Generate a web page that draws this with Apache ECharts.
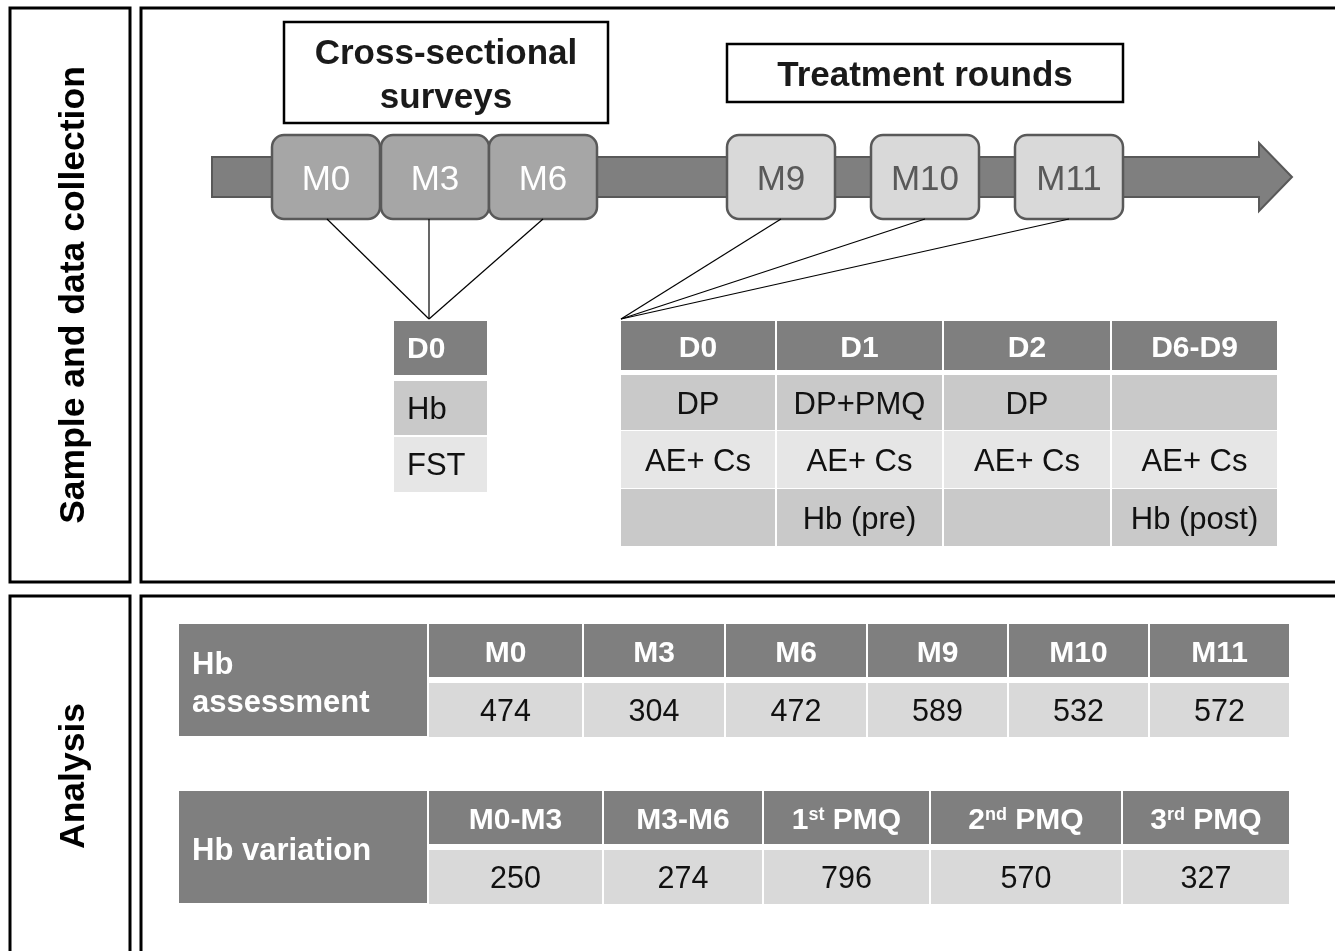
<!DOCTYPE html>
<html>
<head>
<meta charset="utf-8">
<script src="https://cdn.jsdelivr.net/npm/echarts@6/dist/echarts.min.js"></script>
<style>html,body{margin:0;padding:0;background:#fff;}#c{width:1335px;height:951px;}</style>
</head>
<body>
<div id="c"></div>
<script>
// ---- data ----
const panelLabels = ['Sample and data collection', 'Analysis'];
const headerBoxes = ['Cross-sectional\nsurveys', 'Treatment rounds'];
const surveyMonths = ['M0', 'M3', 'M6'];
const treatMonths = ['M9', 'M10', 'M11'];
const surveyDay = 'D0';
const surveyItems = ['Hb', 'FST'];
const treatDays = ['D0', 'D1', 'D2', 'D6-D9'];
const treatRow1 = ['DP', 'DP+PMQ', 'DP', ''];
const treatRow2 = ['AE+ Cs', 'AE+ Cs', 'AE+ Cs', 'AE+ Cs'];
const treatRow3 = ['', 'Hb (pre)', '', 'Hb (post)'];
const assessLabel = 'Hb\nassessment';
const assessMonths = ['M0', 'M3', 'M6', 'M9', 'M10', 'M11'];
const assessN = [474, 304, 472, 589, 532, 572];
const varLabel = 'Hb variation';
const varPeriods = ['M0-M3', 'M3-M6', '1{sup|st} PMQ', '2{sup|nd} PMQ', '3{sup|rd} PMQ'];
const varN = [250, 274, 796, 570, 327];

// ---- layout ----
const FF = '"Liberation Sans", Arial, sans-serif';
const DARK = '#7f7f7f', MID = '#a6a6a6', LIGHT = '#d9d9d9', ROWA = '#c9c9c9', ROWB = '#e6e6e6', EDGE = '#595959';
const DY = 3; // vertical text nudge
const els = [];
function rect(x, y, w, h, fill, stroke, lw, r) {
  els.push({type: 'rect', shape: {x: x, y: y, width: w, height: h, r: r || 0},
    style: {fill: fill, stroke: stroke || null, lineWidth: lw || 0}});
}
function text(t, x, y, size, color, bold, align, extra) {
  const o = {type: 'text', x: x, y: y + DY, style: Object.assign({text: t, x: 0, y: 0, fill: color,
    fontSize: size, fontFamily: FF, fontWeight: bold ? 'bold' : 'normal',
    align: align || 'center', verticalAlign: 'middle'}, extra || {})};
  els.push(o);
  return o;
}
function line(x1, y1, x2, y2) {
  els.push({type: 'line', shape: {x1: x1, y1: y1, x2: x2, y2: y2}, style: {stroke: '#000', lineWidth: 1.2}});
}

// frames
const frameTop = [8, 582], frameBot = [596, 960];
[frameTop, frameBot].forEach(function (f, i) {
  rect(10, f[0], 120, f[1] - f[0], 'none', '#000', 3);
  rect(141, f[0], 1210, f[1] - f[0], 'none', '#000', 3);
  const t = text(panelLabels[i], 70, 0, 35.5, '#000', true, 'center');
  t.x = 74; t.y = i === 0 ? 295 : 776;
  t.rotation = Math.PI / 2;
});

// header boxes
rect(284, 22, 324, 101, '#fff', '#000', 2.5);
text(headerBoxes[0], 446, 73, 35, '#1a1a1a', true, 'center', {lineHeight: 44});
rect(727, 44, 396, 58, '#fff', '#000', 2.5);
text(headerBoxes[1], 925, 73, 35, '#1a1a1a', true, 'center');

// timeline arrow
els.push({type: 'polygon', shape: {points: [[212, 157], [1259, 157], [1259, 143], [1292, 177], [1259, 211], [1259, 197], [212, 197]]},
  style: {fill: DARK, stroke: EDGE, lineWidth: 2}});

// month boxes
const surveyX = [272, 381, 489], boxW = 108, boxY = 135, boxH = 84;
const surveyLineX = [327, 429, 543];
const treatX = [727, 871, 1015];
const tableLeftAnchor = [621, 319], smallAnchor = [429, 319];
surveyMonths.forEach(function (m, i) {
  rect(surveyX[i], boxY, boxW, boxH, MID, EDGE, 2.5, 12);
  text(m, surveyX[i] + boxW / 2, boxY + boxH / 2, 35, '#fff', false);
  line(surveyLineX[i], boxY + boxH, smallAnchor[0], smallAnchor[1]);
});
treatMonths.forEach(function (m, i) {
  rect(treatX[i], boxY, boxW, boxH, LIGHT, EDGE, 2.5, 12);
  text(m, treatX[i] + boxW / 2, boxY + boxH / 2, 35, EDGE, false);
  line(treatX[i] + boxW / 2, boxY + boxH, tableLeftAnchor[0], tableLeftAnchor[1]);
});

// small survey table
rect(394, 321, 93, 54, DARK);
text(surveyDay, 407, 347, 30, '#fff', true, 'left');
const smallRows = [[381, 54, ROWA], [437, 55, ROWB]];
surveyItems.forEach(function (s, i) {
  rect(394, smallRows[i][0], 93, smallRows[i][1], smallRows[i][2]);
  text(s, 407, smallRows[i][0] + smallRows[i][1] / 2 - 1, 31, '#111', false, 'left');
});

// treatment table
const tEdges = [621, 777, 944, 1112, 1279];
const tRows = [[321, 49, DARK], [375, 55, ROWA], [431, 57, ROWB], [489, 57, ROWA]];
const tContent = [treatDays, treatRow1, treatRow2, treatRow3];
tRows.forEach(function (r, ri) {
  for (let c = 0; c < 4; c++) {
    const x0 = tEdges[c], w = tEdges[c + 1] - tEdges[c] - 2;
    rect(x0, r[0], w, r[1], r[2]);
    const v = tContent[ri][c];
    if (v) text(v, x0 + w / 2, r[0] + r[1] / 2, ri === 0 ? 30 : 31, ri === 0 ? '#fff' : '#111', ri === 0);
  }
});

// analysis tables
function analysisTable(label, top, edges, heads, vals) {
  rect(179, top, 248, 112, DARK);
  text(label, 192, top + 57, 31, '#fff', true, 'left', {lineHeight: 38});
  for (let c = 0; c < heads.length; c++) {
    const x0 = edges[c], w = edges[c + 1] - edges[c] - 2;
    rect(x0, top, w, 53, DARK);
    text(heads[c], x0 + w / 2, top + 27, 30, '#fff', true, 'center',
      {rich: {sup: {fontSize: 18, fontWeight: 'bold', fill: '#fff', fontFamily: FF, verticalAlign: 'top', padding: [0, 0, 12, 0]}}});
    rect(x0, top + 59, w, 54, LIGHT);
    text(String(vals[c]), x0 + w / 2, top + 86, 30.5, '#111', false);
  }
}
analysisTable(assessLabel, 624, [429, 584, 726, 868, 1009, 1150, 1291], assessMonths, assessN);
analysisTable(varLabel, 791, [429, 604, 764, 931, 1123, 1291], varPeriods, varN);

const chart = echarts.init(document.getElementById('c'), null, {renderer: 'canvas'});
chart.setOption({animation: false, backgroundColor: '#fff', graphic: {elements: els}});
</script>
</body>
</html>
